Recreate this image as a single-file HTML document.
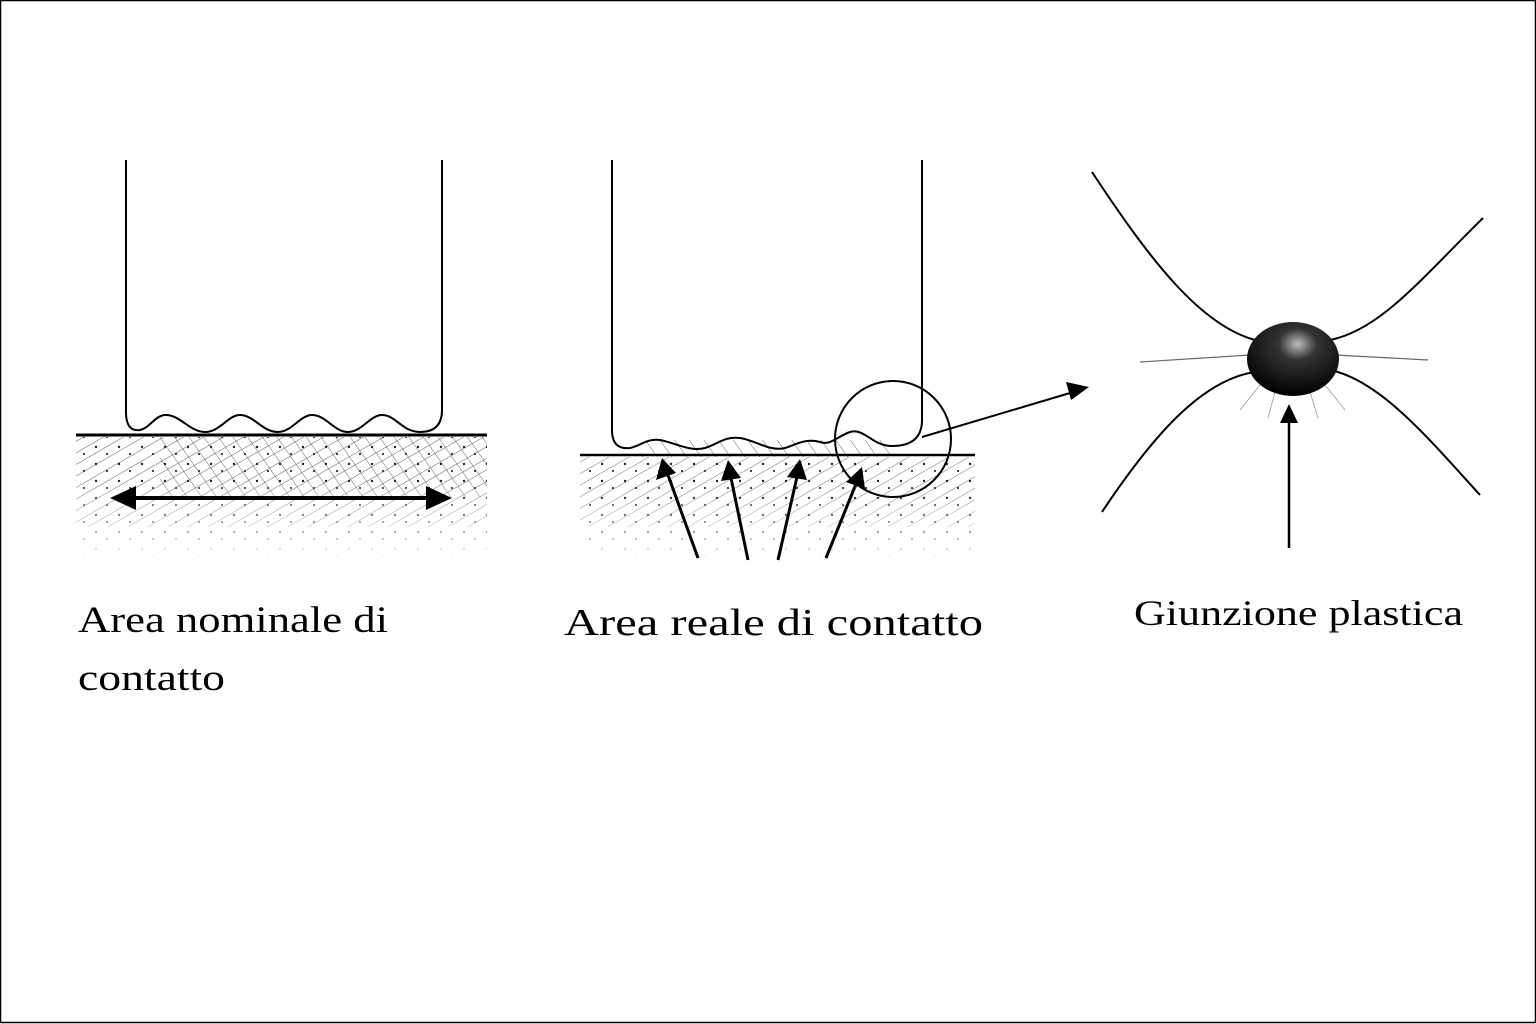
<!DOCTYPE html>
<html><head><meta charset="utf-8"><style>
html,body{margin:0;padding:0;background:#fff}
svg{display:block}
</style></head><body>
<svg width="1536" height="1024" viewBox="0 0 1536 1024" xmlns="http://www.w3.org/2000/svg">
<defs>
<pattern id="h1" width="10" height="10" patternUnits="userSpaceOnUse" patternTransform="rotate(60)">
<line x1="0" y1="0" x2="0" y2="10" stroke="#333" stroke-width="1"/>
</pattern>
<pattern id="h2" width="12" height="12" patternUnits="userSpaceOnUse" patternTransform="rotate(-35)">
<line x1="0" y1="0" x2="0" y2="12" stroke="#444" stroke-width="0.9"/>
</pattern>
<pattern id="dots" width="23" height="17" patternUnits="userSpaceOnUse">
<circle cx="4" cy="5" r="1.2" fill="#222"/><circle cx="15" cy="12" r="1.1" fill="#333"/>
</pattern>
<linearGradient id="fade" x1="0" y1="0" x2="0" y2="1">
<stop offset="0" stop-color="#fff" stop-opacity="0"/><stop offset="0.6" stop-color="#fff" stop-opacity="0.6"/><stop offset="1" stop-color="#fff" stop-opacity="1"/>
</linearGradient>
<radialGradient id="blob" cx="0.55" cy="0.3" r="0.7">
<stop offset="0" stop-color="#bbb"/><stop offset="0.3" stop-color="#333"/><stop offset="1" stop-color="#000"/>
</radialGradient>
</defs>
<rect x="0.5" y="0.5" width="1535" height="1022" fill="#fff" stroke="#000" stroke-width="1.5"/>

<!-- LEFT FIGURE -->
<rect x="76" y="437" width="411" height="123" fill="url(#dots)"/>
<rect x="76" y="437" width="411" height="90" fill="url(#h1)" opacity="0.8"/>
<rect x="160" y="437" width="327" height="60" fill="url(#h2)" opacity="0.9"/>
<rect x="76" y="480" width="411" height="80" fill="url(#fade)"/>
<path d="M126 160 L126 412 Q126 432 140 430 C150 428 155 415 166 415 C180 415 190 432 205 432 C220 432 228 415 240 415 C254 415 262 432 278 432 C292 432 300 415 312 415 C326 415 334 432 348 432 C362 432 370 415 382 415 C396 415 402 432 420 432 Q442 432 442 410 L442 160" fill="none" stroke="#000" stroke-width="2"/>
<line x1="76" y1="435" x2="487" y2="435" stroke="#000" stroke-width="3"/>
<line x1="130" y1="498" x2="432" y2="498" stroke="#000" stroke-width="4"/>
<polygon points="110,498 136,486 136,510" fill="#000"/>
<polygon points="452,498 426,486 426,510" fill="#000"/>

<!-- MIDDLE FIGURE -->
<rect x="580" y="457" width="395" height="100" fill="url(#dots)"/>
<rect x="580" y="457" width="395" height="70" fill="url(#h1)" opacity="0.7"/>
<rect x="640" y="440" width="250" height="17" fill="url(#h2)" opacity="0.9"/>
<rect x="580" y="490" width="395" height="70" fill="url(#fade)"/>
<path d="M612 160 L612 430 Q612 450 630 448 C640 446 648 438 660 440 C676 443 690 452 705 448 C718 444 725 436 740 438 C755 440 770 452 785 448 C795 445 805 438 820 442 C830 446 838 436 850 432 C865 428 872 446 892 446 Q922 446 922 420 L922 160" fill="none" stroke="#000" stroke-width="2"/>
<line x1="580" y1="455" x2="975" y2="455" stroke="#000" stroke-width="2.5"/>
<circle cx="893" cy="439" r="58" fill="none" stroke="#000" stroke-width="2"/>
<line x1="922" y1="437" x2="1070" y2="393" stroke="#000" stroke-width="2"/>
<polygon points="1089,387 1066,382 1071,400" fill="#000"/>
<g stroke="#000" stroke-width="3">
<line x1="698" y1="558" x2="668" y2="475"/>
<line x1="748" y1="560" x2="731" y2="478"/>
<line x1="778" y1="560" x2="797" y2="477"/>
<line x1="826" y1="558" x2="856" y2="484"/>
</g>
<polygon points="662,458 656,480 676,473" fill="#000"/>
<polygon points="728,460 721,481 741,478" fill="#000"/>
<polygon points="800,459 787,477 807,480" fill="#000"/>
<polygon points="862,467 846,482 865,489" fill="#000"/>

<!-- RIGHT FIGURE -->
<g fill="none" stroke="#000" stroke-width="2">
<path d="M1092 172 C1150 260 1200 325 1255 340"/>
<path d="M1483 218 C1420 280 1380 330 1330 340"/>
<path d="M1102 512 C1150 440 1200 380 1255 372"/>
<path d="M1480 495 C1430 440 1380 380 1330 370"/>
</g>
<g stroke="#666" stroke-width="1.2">
<line x1="1140" y1="362" x2="1250" y2="355"/>
<line x1="1335" y1="355" x2="1428" y2="360"/>
</g>
<g stroke="#999" stroke-width="0.8">
<line x1="1260" y1="385" x2="1240" y2="410"/><line x1="1275" y1="392" x2="1268" y2="418"/>
<line x1="1310" y1="392" x2="1318" y2="418"/><line x1="1325" y1="385" x2="1345" y2="410"/>
</g>
<ellipse cx="1293" cy="359" rx="46" ry="37" fill="url(#blob)"/>
<line x1="1289" y1="548" x2="1289" y2="420" stroke="#000" stroke-width="2.5"/>
<polygon points="1289,404 1280,423 1298,423" fill="#000"/>

<!-- TEXT -->
<g font-family="'Liberation Serif', serif" fill="#000">
<text x="78" y="632" font-size="37" textLength="310" lengthAdjust="spacingAndGlyphs">Area nominale di</text>
<text x="78" y="690" font-size="37" textLength="147" lengthAdjust="spacingAndGlyphs">contatto</text>
<text x="564" y="635" font-size="38" textLength="419" lengthAdjust="spacingAndGlyphs">Area reale di contatto</text>
<text x="1134" y="625" font-size="36" textLength="329" lengthAdjust="spacingAndGlyphs">Giunzione plastica</text>
</g>
</svg>
</body></html>
